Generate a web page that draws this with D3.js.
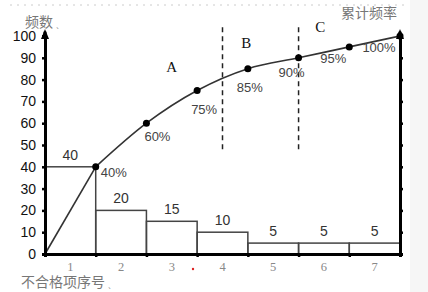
<!DOCTYPE html>
<html>
<head>
<meta charset="utf-8">
<title>Pareto</title>
<style>
    body, html { margin: 0; padding: 0; background: #fff; }
    svg { display: block; }
    .num { font-family: "Liberation Sans", Arial, sans-serif; }
    .cjk { font-family: "Noto Sans CJK SC", serif; fill: #777; }
    .serif { font-family: "Liberation Serif", "DejaVu Serif", serif; }
</style>
</head>
<body>
<div id="chart"></div>
<script src="https://d3js.org/d3.v7.min.js"></script>
<script>
    // data
    var categories = ['1', '2', '3', '4', '5', '6', '7'];
    var counts = [40, 20, 15, 10, 5, 5, 5];
    var cumPct = [40, 60, 75, 85, 90, 95, 100];
    var yTicks = [0, 10, 20, 30, 40, 50, 60, 70, 80, 90, 100];
    var abcLimits = [80, 90];
    var abcNames = ['A', 'B', 'C'];

    var width = 428, height = 292;
    var plotLeft = 45, plotRight = 400, plotTop = 36, plotBottom = 254;

    var svg = d3.select('#chart').append('svg')
        .attr('width', width).attr('height', height);

    // light strip at right edge + faint dotted line at top (scan artefacts)
    svg.append('rect').attr('x', 410).attr('y', 0).attr('width', 18).attr('height', height).attr('fill', '#f6f6f6');
    svg.append('line').attr('x1', 10).attr('x2', 405).attr('y1', 5).attr('y2', 5)
        .attr('stroke', '#ccc').attr('stroke-dasharray', '2,5');

    var x = d3.scaleBand().domain(categories).range([plotLeft, plotRight]).padding(0);
    var xc = d3.scaleLinear().domain([0, categories.length]).range([plotLeft, plotRight]);
    var y = d3.scaleLinear().domain([0, 100]).range([plotBottom, plotTop]);

    // bars
    svg.selectAll('.bar').data(counts).enter().append('rect')
        .attr('class', 'bar')
        .attr('x', function(d, i) { return x(categories[i]); })
        .attr('y', function(d) { return y(d); })
        .attr('width', x.bandwidth())
        .attr('height', function(d) { return y(0) - y(d); })
        .attr('fill', 'none').attr('stroke', '#444').attr('stroke-width', 1.5);

    svg.selectAll('.barlbl').data(counts).enter().append('text')
        .attr('class', 'num')
        .attr('x', function(d, i) { return x(categories[i]) + x.bandwidth() / 2; })
        .attr('y', function(d) { return y(d) - 7; })
        .attr('text-anchor', 'middle')
        .attr('font-size', 14).attr('fill', '#333')
        .text(function(d) { return d; });

    // dashed ABC boundaries
    var pts = [[0, 0]].concat(cumPct.map(function(d, i) { return [i + 1, d]; }));
    function xAtPct(p) {
        for (var i = 1; i < pts.length; i++) {
            if (pts[i][1] >= p) {
                var t = (p - pts[i - 1][1]) / (pts[i][1] - pts[i - 1][1]);
                return xc(pts[i - 1][0] + t * (pts[i][0] - pts[i - 1][0]));
            }
        }
    }
    abcLimits.forEach(function(p) {
        var xx = xAtPct(p);
        svg.append('line').attr('x1', xx).attr('x2', xx)
            .attr('y1', y(104)).attr('y2', y(47))
            .attr('stroke', '#222').attr('stroke-width', 1.5)
            .attr('stroke-dasharray', '5,4');
    });

    var abcPos = [[2.5, 86], [3.97, 97], [5.43, 104]];
    svg.selectAll('.abc').data(abcNames).enter().append('text')
        .attr('class', 'serif')
        .attr('x', function(d, i) { return xc(abcPos[i][0]); })
        .attr('y', function(d, i) { return y(abcPos[i][1]) + 5; })
        .attr('text-anchor', 'middle').attr('font-size', 15).attr('fill', '#111')
        .text(function(d) { return d; });

    // cumulative line
    svg.append('path')
        .datum(pts.slice(0, 2))
        .attr('d', d3.line().x(function(d) { return xc(d[0]); }).y(function(d) { return y(d[1]); }))
        .attr('fill', 'none').attr('stroke', '#333').attr('stroke-width', 1.6);
    svg.append('path')
        .datum(pts.slice(1))
        .attr('d', d3.line().curve(d3.curveMonotoneX)
            .x(function(d) { return xc(d[0]); }).y(function(d) { return y(d[1]); }))
        .attr('fill', 'none').attr('stroke', '#333').attr('stroke-width', 1.6);

    svg.selectAll('.dot').data(pts.slice(1)).enter().append('circle')
        .attr('cx', function(d) { return xc(d[0]); })
        .attr('cy', function(d) { return y(d[1]); })
        .attr('r', 3.5).attr('fill', '#000');

    var pctOff = [[18, 10], [11, 18], [7, 23], [2, 23], [-7, 19], [-16, 16], [-21, 16]];
    svg.selectAll('.pct').data(pts.slice(1)).enter().append('text')
        .attr('class', 'num')
        .attr('x', function(d, i) { return xc(d[0]) + pctOff[i][0]; })
        .attr('y', function(d, i) { return y(d[1]) + pctOff[i][1]; })
        .attr('text-anchor', 'middle').attr('font-size', 13).attr('fill', '#444')
        .text(function(d) { return d[1] + '%'; });

    // axes
    var yAxis = svg.append('g').attr('transform', 'translate(' + plotLeft + ',0)')
        .call(d3.axisLeft(y).tickValues(yTicks).tickSize(3).tickPadding(6));
    yAxis.selectAll('text').attr('class', 'num').attr('font-size', 14).attr('fill', '#111');

    var yAxisR = svg.append('g').attr('transform', 'translate(' + plotRight + ',0)')
        .call(d3.axisRight(y).tickValues(yTicks).tickSize(3).tickFormat(''));

    var xAxis = svg.append('g').attr('transform', 'translate(0,' + plotBottom + ')')
        .call(d3.axisBottom(xc).tickValues(d3.range(0, categories.length + 1)).tickSize(3).tickFormat(''));

    [yAxis, yAxisR, xAxis].forEach(function(g) {
        g.select('.domain').attr('stroke', '#000').attr('stroke-width', 3);
        g.selectAll('.tick line').attr('stroke', '#000').attr('stroke-width', 2.5);
    });

    // axis arrows
    [plotLeft, plotRight].forEach(function(ax) {
        svg.append('line').attr('x1', ax).attr('x2', ax).attr('y1', y(100)).attr('y2', y(102))
            .attr('stroke', '#000').attr('stroke-width', 3);
        svg.append('path')
            .attr('d', 'M' + (ax - 4) + ',' + (y(100) + 3) + 'L' + ax + ',' + (y(100) - 7) + 'L' + (ax + 4) + ',' + (y(100) + 3) + 'Z')
            .attr('fill', '#000');
    });

    // category labels
    svg.selectAll('.cat').data(categories).enter().append('text')
        .attr('class', 'serif')
        .attr('x', function(d) { return x(d) + x.bandwidth() / 2; })
        .attr('y', plotBottom + 17)
        .attr('text-anchor', 'middle').attr('font-size', 12.5).attr('fill', '#888')
        .text(function(d) { return d; });

    svg.append('circle').attr('cx', 193).attr('cy', 269).attr('r', 1.2).attr('fill', '#d22');

    // titles
    svg.append('text').attr('class', 'cjk').attr('x', 25).attr('y', 27).attr('font-size', 14).text('频数');
    svg.append('text').attr('class', 'cjk').attr('x', 56).attr('y', 27).attr('font-size', 9).text('ˎ');
    svg.append('text').attr('class', 'cjk').attr('x', 341).attr('y', 18).attr('font-size', 14).text('累计频率');
    svg.append('text').attr('class', 'cjk').attr('x', 21).attr('y', 287).attr('font-size', 14).text('不合格项序号');
    svg.append('text').attr('class', 'cjk').attr('x', 108).attr('y', 287).attr('font-size', 9).text('ˎ');
</script>
</body>
</html>
